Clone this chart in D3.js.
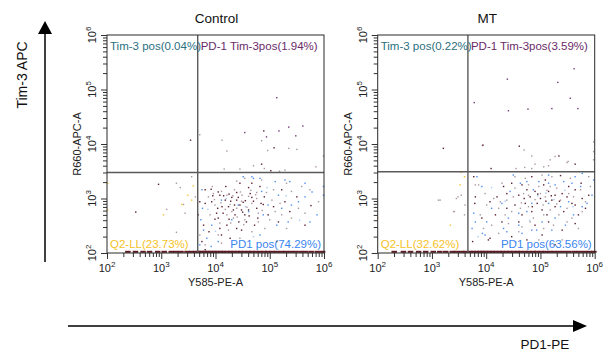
<!DOCTYPE html>
<html>
<head>
<meta charset="utf-8">
<script src="https://cdn.jsdelivr.net/npm/d3@7"></script>
<style>
  body { margin: 0; background: #fff; }
  svg { display: block; font-family: "Liberation Sans", Arial, sans-serif; }
</style>
</head>
<body>
<div id="chart"></div>
<script>
// ---- data (log10 units) ----
const panelTitles = ["Control", "MT"]
const decades = [2, 3, 4, 5, 6]
const xAxisTitle = "Y585-PE-A"
const yAxisTitle = "R660-APC-A"

const controlGate = [4700, 3000]
const mtGate = [4600, 3100]
const controlLabels = ["Tim-3 pos(0.04%)", "PD-1 Tim-3pos(1.94%)", "Q2-LL(23.73%)", "PD1 pos(74.29%)"]
const mtLabels = ["Tim-3 pos(0.22%)", "PD-1 Tim-3pos(3.59%)", "Q2-LL(32.62%)", "PD1 pos(63.56%)"]

const controlDark = [[3.92,3.17],[4.08,3.06],[4.25,3.08],[4.30,3.02],[4.39,3.11],[4.45,2.88],[4.51,2.93],[4.61,3.20],[4.67,3.02],[4.61,2.79],[4.82,3.22],[4.88,2.89],[4.36,2.70],[4.43,2.57],[4.21,2.51],[4.04,2.82],[3.99,2.62],[3.81,2.91],[3.78,2.51],[3.88,2.39],[4.11,2.33],[4.48,2.42],[4.78,2.64],[4.97,2.70],[5.16,2.57],[5.28,2.94],[5.50,3.03],[5.37,2.76],[5.65,2.51],[5.76,2.87],[4.64,3.09],[4.24,2.85],[4.14,2.73],[4.33,2.79],[4.54,2.70],[4.72,2.51],[4.08,2.45],[4.27,2.27],[3.75,2.21],[3.81,2.06],[5.13,2.21],[4.84,2.91],[4.19,3.22],[4.45,3.28],[4.67,3.28],[3.93,2.94],[4.02,2.73],[4.39,2.97],[4.48,2.79],[4.90,3.03],[5.07,2.85],[5.22,3.16],[4.57,2.57],[4.39,2.45],[4.18,2.97],[4.76,2.82],[4.05,2.64],[3.68,2.70],[3.71,2.94],[3.81,3.16],[4.15,3.05],[4.28,2.95],[4.42,3.02],[4.55,2.96],[4.35,2.88],[4.12,2.85],[4.50,2.75],[4.62,2.68],[4.25,2.62],[3.95,3.05],[4.70,2.95],[4.05,3.12],[2.95,3.26],[2.53,2.75],[3.54,4.07],[4.89,4.24],[5.08,3.93],[4.85,3.63],[5.02,3.51]]
const controlMauve = [[3.94,3.22],[4.11,3.13],[4.35,3.16],[4.49,3.06],[4.76,3.11],[4.94,3.11],[5.04,2.97],[5.19,2.91],[5.40,3.13],[5.59,3.22],[5.31,3.28],[4.85,3.34],[4.54,3.37],[4.27,2.89],[4.39,2.82],[4.48,2.95],[4.67,2.91],[4.21,2.70],[4.33,2.64],[4.54,2.61],[4.79,2.73],[5.00,2.61],[5.22,2.70],[5.40,2.64],[5.53,2.82],[3.99,2.88],[3.90,2.70],[4.08,2.55],[3.87,3.03],[4.24,2.42],[4.67,2.39],[4.91,2.45],[4.11,2.18],[3.81,2.15],[4.05,2.33],[4.76,3.00],[4.39,3.32],[4.61,3.04],[4.21,3.06],[5.07,3.16],[5.74,3.16],[5.90,2.94],[5.65,2.73],[5.31,2.45],[4.45,2.27],[3.71,2.33],[3.96,3.09],[4.79,2.57],[5.10,2.76],[4.30,2.76],[4.18,2.80],[4.32,3.05],[4.46,3.12],[4.58,2.84],[4.40,2.66],[4.10,2.92],[4.65,3.15],[4.28,2.55],[3.98,2.98],[4.52,2.52],[4.86,2.78],[4.74,3.07],[3.28,3.28],[3.35,3.20],[3.41,2.89],[3.10,2.80],[3.28,2.38],[3.44,2.73],[3.56,3.40],[3.63,3.03],[3.71,4.17],[4.12,4.07],[4.85,4.06],[4.96,3.88],[4.21,3.87],[4.90,3.55],[5.18,3.50],[4.16,3.54],[4.45,3.54],[5.85,3.58],[5.99,3.78],[5.28,3.52],[4.70,3.60],[5.35,3.92],[5.50,3.90]]
const controlPurple = [[5.13,4.85],[5.17,4.24],[5.35,4.31],[5.61,4.33],[4.54,4.21],[4.94,4.13],[5.48,4.15]]
const controlBlue = [[3.75,3.16],[3.73,2.61],[3.78,2.42],[3.84,2.27],[3.71,2.15],[3.92,2.12],[4.51,3.40],[4.70,3.37],[4.82,3.37],[5.10,3.31],[5.28,3.34],[5.37,3.31],[4.85,3.13],[5.16,3.06],[5.53,2.94],[5.65,3.03],[5.78,3.12],[5.99,3.22],[5.99,3.06],[4.97,2.88],[5.22,2.82],[5.40,2.88],[4.42,2.88],[4.11,2.97],[4.88,2.70],[5.13,2.51],[5.34,2.57],[4.05,2.21],[4.82,2.33],[4.61,2.76],[3.76,2.82],[3.93,2.51],[4.30,2.61],[5.74,2.57],[5.87,2.70],[4.67,3.40],[5.65,3.28]]
const controlLightBlue = [[4.20,3.00],[4.55,2.85],[4.95,3.20],[5.30,3.05],[4.00,2.40],[4.70,2.30],[5.55,2.60],[3.86,2.80]]
const controlYellow = [[3.56,2.97],[3.59,3.23],[3.04,2.70],[3.38,2.89],[2.01,3.28],[2.01,2.79],[3.49,3.06]]
const controlFloor = [2.38,2.52,2.66,2.78,2.93,3.05,3.18,3.27,3.36,3.47,3.55,3.63,3.69,3.74,3.80,3.86,3.91,3.97,4.02,4.09,4.14,4.21,4.27,4.33,4.40,4.46,4.53,4.60,4.66,4.74,4.81,4.89,4.96,5.04,5.12,5.21,5.29,5.38,5.47,5.57,5.66,5.76,5.87,5.97]

const mtDark = [[3.77,3.40],[3.80,3.03],[3.79,2.91],[4.07,2.94],[4.20,3.03],[4.32,3.22],[4.47,3.28],[4.60,3.06],[4.66,3.25],[4.81,3.03],[4.90,3.13],[5.00,3.00],[5.06,3.25],[5.15,3.13],[5.27,3.06],[5.40,3.09],[5.49,3.03],[5.64,3.16],[4.84,3.40],[5.37,3.42],[5.77,3.00],[5.89,3.06],[4.38,2.82],[4.53,2.88],[4.72,2.91],[4.84,2.76],[5.03,2.79],[5.12,2.70],[5.27,2.85],[5.43,2.76],[5.58,2.91],[5.70,2.70],[5.83,2.82],[4.29,2.57],[4.60,2.57],[4.90,2.51],[5.15,2.57],[5.40,2.42],[5.64,2.54],[4.07,2.27],[4.47,2.30],[4.75,2.24],[5.03,2.33],[5.27,2.15],[3.92,2.64],[4.17,2.70],[4.66,2.70],[4.94,2.91],[5.21,2.97],[5.64,2.88],[4.38,3.09],[4.75,3.16],[5.09,3.34],[5.52,3.22],[5.75,3.28],[4.04,2.24],[3.75,2.21],[4.95,3.08],[5.10,2.95],[4.70,3.00],[5.20,3.05],[4.85,2.85],[5.35,2.95],[3.21,3.92],[3.94,3.98],[4.61,3.96],[5.34,3.78],[5.64,3.63],[4.09,3.55]]
const mtMauve = [[3.86,3.25],[3.98,3.09],[4.14,3.00],[4.26,2.94],[4.38,2.97],[4.50,3.03],[4.53,3.19],[4.69,3.09],[4.78,3.25],[4.97,3.22],[5.00,3.09],[5.09,3.03],[5.18,3.22],[5.30,3.19],[5.37,2.97],[5.52,3.09],[5.61,3.03],[5.74,3.16],[5.83,2.94],[5.92,3.22],[4.23,2.82],[4.35,2.70],[4.47,2.76],[4.63,2.82],[4.78,2.85],[4.87,2.64],[5.06,2.70],[5.18,2.79],[5.34,2.70],[5.49,2.82],[5.58,2.64],[5.77,2.76],[4.41,2.54],[4.66,2.48],[4.81,2.57],[5.06,2.45],[5.24,2.51],[5.49,2.57],[5.70,2.45],[4.10,2.51],[3.95,2.45],[4.23,2.36],[4.60,2.39],[4.97,2.24],[5.40,2.24],[3.80,3.25],[4.01,2.88],[3.89,2.70],[4.72,3.37],[5.03,3.43],[5.21,3.40],[5.55,3.37],[5.89,3.40],[4.29,3.28],[4.53,3.40],[4.90,2.98],[5.05,2.88],[4.65,2.92],[5.30,2.90],[5.12,3.15],[4.78,3.06],[3.54,3.06],[3.48,3.03],[3.15,2.97],[3.61,2.88],[3.40,2.76],[3.60,2.70],[3.12,2.97],[3.45,3.00],[3.41,2.76],[4.84,3.78],[5.49,3.66],[5.98,4.04],[3.93,3.97],[4.70,3.89],[5.27,3.77],[5.18,3.71],[5.51,3.68],[5.06,3.58],[5.15,3.60],[4.55,3.55],[4.71,3.57],[4.84,3.55],[4.90,3.63],[5.98,3.86],[5.98,3.71]]
const mtPurple = [[5.62,5.38],[4.39,5.19],[5.32,5.13],[3.78,4.76],[5.55,4.84],[4.41,4.61],[4.77,4.64],[5.21,4.65],[5.69,4.65]]
const mtBlue = [[3.83,3.40],[3.92,3.22],[3.77,2.73],[3.80,2.57],[3.74,2.45],[3.93,2.36],[4.01,2.57],[4.10,2.82],[4.29,2.91],[4.44,3.13],[4.63,3.28],[4.75,3.31],[4.87,3.16],[4.97,3.31],[5.15,3.28],[5.27,3.25],[5.43,3.31],[5.58,3.28],[5.74,3.22],[5.86,2.91],[5.77,2.85],[5.52,2.94],[5.37,2.85],[5.15,2.91],[4.84,2.91],[4.75,2.76],[4.60,2.73],[4.41,2.64],[4.32,2.45],[4.60,2.51],[4.84,2.42],[5.03,2.57],[5.27,2.64],[5.46,2.51],[5.61,2.70],[5.95,3.06],[5.98,3.34],[4.50,3.43],[5.64,3.40],[5.77,3.46],[5.15,3.43],[4.93,2.42],[5.21,2.42],[3.98,2.33],[4.38,2.39],[4.66,2.36]]
const mtLightBlue = [[4.10,3.20],[4.35,2.95],[4.95,3.05],[5.25,2.98],[5.45,3.15],[4.80,2.60],[3.85,2.30],[5.60,2.85],[4.55,2.20],[5.10,3.10]]
const mtYellow = [[3.54,3.48],[3.52,3.25],[3.34,2.51],[2.00,2.64],[3.60,3.40]]
const mtFloor = [2.30,2.47,2.60,2.75,2.88,3.02,3.14,3.25,3.37,3.45,3.54,3.62,3.70,3.76,3.82,3.88,3.93,3.99,4.05,4.11,4.17,4.24,4.30,4.37,4.43,4.50,4.57,4.63,4.71,4.78,4.86,4.93,5.01,5.09,5.17,5.25,5.34,5.43,5.52,5.62,5.71,5.81,5.90,5.98]

// ---- layout ----
const WIDTH = 605, HEIGHT = 355
const PLOT = { TOP: 35, W: 217, H: 218 }
const PANEL_LEFT = [107, 377.7]

const COLORS = {
    dark: "#5a1e30", mauve: "#ab97a0", purple: "#74387a", blue: "#4f8ef2",
    lightBlue: "#abc9f4", yellow: "#f3c52c", floor: "#5e1a22"
}
const LABEL_COLORS = ["#2b6f80", "#6a2a68", "#f5c21f", "#3a86f0"]

const svg = d3.select("#chart").append("svg")
    .attr("width", WIDTH)
    .attr("height", HEIGHT)

function superLabel(sel, base, exp) {
    sel.append("tspan").text(base)
    sel.append("tspan").attr("dy", -5).attr("font-size", 8).text(exp)
}

function drawPanel(i, gate, labels, groups, floor) {
    const g = svg.append("g")
        .attr("transform", `translate(${PANEL_LEFT[i]}, ${PLOT.TOP})`)

    const x = d3.scaleLog().domain([1e2, 1e6]).range([0, PLOT.W])
    const y = d3.scaleLog().domain([1e2, 1e6]).range([PLOT.H, 0])

    // minor + major tick values
    const minor = []
    decades.slice(0, -1).forEach(d => {
        for (let k = 2; k <= 9; k++) minor.push(k * Math.pow(10, d))
    })
    const major = decades.map(d => Math.pow(10, d))

    const xAx = g.append("g").attr("transform", `translate(0, ${PLOT.H})`)
    xAx.append("g").call(d3.axisBottom(x).tickValues(minor).tickSize(4).tickFormat(""))
    xAx.append("g").call(d3.axisBottom(x).tickValues(major).tickSize(6).tickFormat(""))
    xAx.selectAll(".domain").remove()
    xAx.selectAll("line").attr("stroke", "#333")

    const yAx = g.append("g")
    yAx.append("g").call(d3.axisLeft(y).tickValues(minor).tickSize(4).tickFormat(""))
    yAx.append("g").call(d3.axisLeft(y).tickValues(major).tickSize(6).tickFormat(""))
    yAx.selectAll(".domain").remove()
    yAx.selectAll("line").attr("stroke", "#333")

    // decade labels
    decades.forEach(d => {
        const v = Math.pow(10, d)
        g.append("text")
            .attr("x", x(v)).attr("y", PLOT.H + 19)
            .attr("text-anchor", "middle").attr("font-size", 11).attr("fill", "#222")
            .call(superLabel, "10", d)
        g.append("text")
            .attr("transform", `translate(-11, ${y(v)}) rotate(-90)`)
            .attr("text-anchor", "middle").attr("font-size", 11).attr("fill", "#222")
            .call(superLabel, "10", d)
    })

    g.append("text")
        .attr("x", PLOT.W / 2).attr("y", PLOT.H + 33)
        .attr("text-anchor", "middle").attr("font-size", 11).attr("fill", "#222")
        .text(xAxisTitle)
    g.append("text")
        .attr("transform", `translate(-26, ${PLOT.H / 2}) rotate(-90)`)
        .attr("text-anchor", "middle").attr("font-size", 11).attr("fill", "#222")
        .text(yAxisTitle)

    g.append("text")
        .attr("x", PLOT.W / 2 + 1).attr("y", -12)
        .attr("text-anchor", "middle").attr("font-size", 13.5).attr("fill", "#111")
        .text(panelTitles[i])

    // events
    const lg = v => Math.pow(10, v)
    groups.forEach(([pts, color]) => {
        g.append("g").selectAll("rect")
            .data(pts)
            .enter().append("rect")
            .attr("x", d => x(lg(d[0])) - 0.7)
            .attr("y", d => y(lg(d[1])) - 0.7)
            .attr("width", 1.4)
            .attr("height", 1.4)
            .attr("fill", color)
    })
    g.append("g").selectAll("rect")
        .data(floor)
        .enter().append("rect")
        .attr("x", d => x(lg(d)) - 2.5)
        .attr("y", PLOT.H - 2.2)
        .attr("width", 5.5)
        .attr("height", 2)
        .attr("fill", COLORS.floor)

    // gates
    g.append("line")
        .attr("x1", x(gate[0])).attr("x2", x(gate[0]))
        .attr("y1", 0).attr("y2", PLOT.H)
        .attr("stroke", "#5a5a5a").attr("stroke-width", 1.4)
    g.append("line")
        .attr("x1", 0).attr("x2", PLOT.W)
        .attr("y1", y(gate[1])).attr("y2", y(gate[1]))
        .attr("stroke", "#5a5a5a").attr("stroke-width", 1.4)

    g.append("rect")
        .attr("width", PLOT.W).attr("height", PLOT.H)
        .attr("fill", "none").attr("stroke", "#2a2a2a").attr("stroke-width", 1)

    // quadrant labels
    const gx = x(gate[0])
    const pos = [
        [3, 15, "start"], [gx + 3, 15, "start"],
        [3, PLOT.H - 5, "start"], [PLOT.W - 3, PLOT.H - 5, "end"]
    ]
    labels.forEach((t, k) => {
        g.append("text")
            .attr("x", pos[k][0]).attr("y", pos[k][1])
            .attr("text-anchor", pos[k][2])
            .attr("font-size", 11.5)
            .attr("fill", LABEL_COLORS[k])
            .text(t)
    })
}

drawPanel(0, controlGate, controlLabels, [
    [controlMauve, COLORS.mauve], [controlLightBlue, COLORS.lightBlue], [controlBlue, COLORS.blue],
    [controlYellow, COLORS.yellow], [controlDark, COLORS.dark], [controlPurple, COLORS.purple]
], controlFloor)

drawPanel(1, mtGate, mtLabels, [
    [mtMauve, COLORS.mauve], [mtLightBlue, COLORS.lightBlue], [mtBlue, COLORS.blue],
    [mtYellow, COLORS.yellow], [mtDark, COLORS.dark], [mtPurple, COLORS.purple]
], mtFloor)

// big direction arrows
svg.append("line")
    .attr("x1", 45).attr("x2", 45).attr("y1", 262).attr("y2", 32)
    .attr("stroke", "#000").attr("stroke-width", 1.5)
svg.append("path").attr("d", "M38,34 L52,34 L45,21 Z").attr("fill", "#000")
svg.append("text")
    .attr("transform", "translate(27, 75) rotate(-90)")
    .attr("text-anchor", "middle").attr("font-size", 14).attr("fill", "#111")
    .text("Tim-3 APC")

svg.append("line")
    .attr("x1", 68).attr("x2", 575).attr("y1", 326).attr("y2", 326)
    .attr("stroke", "#000").attr("stroke-width", 1.5)
svg.append("path").attr("d", "M573,320 L573,332 L587,326 Z").attr("fill", "#000")
svg.append("text")
    .attr("x", 545).attr("y", 349)
    .attr("text-anchor", "middle").attr("font-size", 13.5).attr("fill", "#111")
    .text("PD1-PE")
</script>
</body>
</html>
